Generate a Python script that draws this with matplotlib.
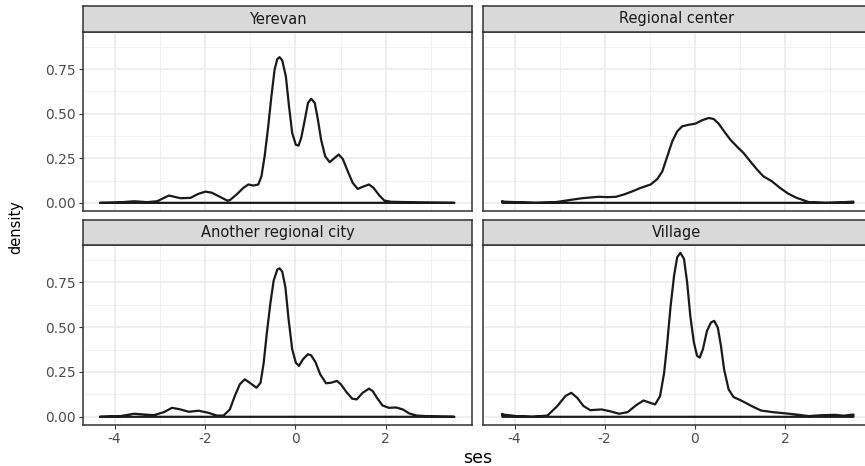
import numpy as np
import matplotlib
matplotlib.use("Agg")
import matplotlib.pyplot as plt

plt.rcParams['font.family'] = ['DejaVu Sans']

# ---- data ----
panels = ["Yerevan", "Regional center", "Another regional city", "Village"]

yerevan_x = [-4.31, -3.94, -3.57, -3.28, -3.06, -2.80, -2.54, -2.32, -2.15, -1.99, -1.85, -1.74, -1.51,
             -1.45, -1.30, -1.15, -1.04, -0.93, -0.82, -0.75, -0.68, -0.60, -0.53, -0.46, -0.40, -0.35,
             -0.29, -0.21, -0.14, -0.07, 0.01, 0.07, 0.13, 0.21, 0.28, 0.35, 0.43, 0.50, 0.57, 0.66,
             0.76, 0.87, 0.96, 1.05, 1.16, 1.27, 1.38, 1.49, 1.63, 1.73, 1.86, 1.97, 2.12, 2.52, 2.68, 3.52]
yerevan_y = [0.000, 0.002, 0.009, 0.004, 0.009, 0.041, 0.026, 0.028, 0.050, 0.063, 0.057, 0.043, 0.013,
             0.015, 0.047, 0.084, 0.103, 0.097, 0.103, 0.149, 0.261, 0.429, 0.597, 0.746, 0.806, 0.817,
             0.799, 0.709, 0.541, 0.392, 0.326, 0.321, 0.364, 0.466, 0.560, 0.584, 0.560, 0.466, 0.354, 0.261,
             0.228, 0.252, 0.271, 0.246, 0.177, 0.112, 0.078, 0.090, 0.103, 0.084, 0.041, 0.013, 0.006, 0.004, 0.002, 0.000]

regional_x = [-4.27, -3.96, -3.53, -3.09, -2.80, -2.50, -2.14, -1.93, -1.75, -1.57, -1.38, -1.20,
              -0.98, -0.83, -0.72, -0.61, -0.50, -0.39, -0.28, -0.13, 0.01, 0.16, 0.31, 0.42, 0.53,
              0.65, 0.79, 0.93, 1.08, 1.23, 1.38, 1.52, 1.71, 1.89, 2.07, 2.26, 2.33, 2.53, 2.90, 3.19, 3.52]
regional_y = [0.007, 0.004, 0.000, 0.004, 0.015, 0.026, 0.034, 0.032, 0.034, 0.047, 0.065, 0.084,
              0.103, 0.134, 0.177, 0.261, 0.345, 0.401, 0.429, 0.438, 0.444, 0.463, 0.476, 0.470, 0.444,
              0.401, 0.354, 0.317, 0.280, 0.233, 0.187, 0.149, 0.121, 0.084, 0.052, 0.028, 0.022, 0.004, 0.000, 0.002, 0.007]

another_x = [-4.31, -3.87, -3.57, -3.35, -3.13, -2.91, -2.73, -2.54, -2.36, -2.14, -1.92, -1.74,
             -1.59, -1.45, -1.34, -1.23, -1.12, -1.01, -0.86, -0.77, -0.70, -0.63, -0.55, -0.48, -0.40,
             -0.35, -0.29, -0.22, -0.15, -0.07, 0.01, 0.08, 0.17, 0.28, 0.35, 0.45, 0.55, 0.68, 0.79,
             0.92, 1.01, 1.13, 1.26, 1.36, 1.49, 1.63, 1.71, 1.82, 1.93, 2.07, 2.23, 2.38, 2.52, 2.68, 3.04, 3.52]
another_y = [0.000, 0.004, 0.017, 0.013, 0.009, 0.026, 0.050, 0.041, 0.028, 0.034, 0.022, 0.007,
             0.007, 0.041, 0.116, 0.181, 0.209, 0.190, 0.162, 0.190, 0.302, 0.470, 0.638, 0.759, 0.821,
             0.828, 0.810, 0.722, 0.545, 0.377, 0.302, 0.284, 0.321, 0.349, 0.343, 0.302, 0.237, 0.187, 0.190,
             0.200, 0.181, 0.138, 0.101, 0.097, 0.134, 0.157, 0.144, 0.101, 0.063, 0.050, 0.052, 0.041, 0.019, 0.007, 0.002, 0.000]

village_x = [-4.27, -3.96, -3.60, -3.27, -3.05, -2.87, -2.74, -2.61, -2.47, -2.32, -2.07, -1.90,
             -1.68, -1.49, -1.31, -1.14, -0.99, -0.88, -0.77, -0.68, -0.61, -0.54, -0.46, -0.39, -0.32,
             -0.24, -0.17, -0.10, -0.02, 0.05, 0.11, 0.18, 0.27, 0.36, 0.43, 0.51, 0.58, 0.65, 0.75,
             0.86, 1.01, 1.15, 1.26, 1.47, 1.73, 2.02, 2.31, 2.53, 2.82, 3.12, 3.30, 3.52]
village_y = [0.013, 0.004, 0.000, 0.007, 0.060, 0.116, 0.134, 0.106, 0.060, 0.037, 0.041, 0.032,
             0.017, 0.026, 0.063, 0.091, 0.078, 0.069, 0.116, 0.246, 0.414, 0.610, 0.787, 0.890, 0.914,
             0.881, 0.750, 0.563, 0.414, 0.340, 0.330, 0.377, 0.479, 0.526, 0.535, 0.498, 0.396, 0.265, 0.153,
             0.110, 0.093, 0.075, 0.060, 0.035, 0.026, 0.019, 0.011, 0.004, 0.009, 0.011, 0.006, 0.013]

series = [(yerevan_x, yerevan_y), (regional_x, regional_y), (another_x, another_y), (village_x, village_y)]

x_major = [-4, -2, 0, 2]
x_minor = [-3, -1, 1, 3]
y_major = [0.0, 0.25, 0.5, 0.75]
y_minor = [0.125, 0.375, 0.625, 0.875]
y_labels = ["0.00", "0.25", "0.50", "0.75"]

xlim = (-4.70, 3.91)
ylim = (-0.0457, 0.958)

# ---- layout (pixels) ----
W, H = 865, 466
fig = plt.figure(figsize=(W / 100, H / 100), dpi=100)

cols = [(83, 472), (483, 871)]
rows = [(32, 211), (245, 425)]
strips = [(6, 32), (220, 245)]

def rect(x0, x1, y0, y1):
    return [x0 / W, 1 - y1 / H, (x1 - x0) / W, (y1 - y0) / H]

border = '#333333'
for i, name in enumerate(panels):
    r, c = divmod(i, 2)
    x0, x1 = cols[c]
    y0, y1 = rows[r]
    ax = fig.add_axes(rect(x0, x1, y0, y1))
    ax.set_xlim(*xlim)
    ax.set_ylim(*ylim)
    for v in x_minor:
        ax.axvline(v, color='#F2F2F2', lw=0.7, zorder=0)
    for v in y_minor:
        ax.axhline(v, color='#F2F2F2', lw=0.7, zorder=0)
    for v in x_major:
        ax.axvline(v, color='#EBEBEB', lw=1.2, zorder=0)
    for v in y_major:
        ax.axhline(v, color='#EBEBEB', lw=1.2, zorder=0)
    xs, ys = series[i]
    px = np.r_[xs, xs[-1], xs[0], xs[0]]
    py = np.r_[ys, 0.0, 0.0, ys[0]]
    ax.plot(px, py, color='#1A1A1A', lw=1.6, solid_joinstyle='round', zorder=3)
    for s in ax.spines.values():
        s.set_color(border)
        s.set_linewidth(1.1)
    ax.set_xticks(x_major)
    ax.set_yticks(y_major)
    ax.tick_params(colors=border, length=3, width=0.8, labelcolor='#4D4D4D', labelsize=10, pad=2)
    if r == 1:
        ax.set_xticklabels([str(v) for v in x_major])
    else:
        ax.tick_params(axis='x', length=0, labelbottom=False)
    if c == 0:
        ax.set_yticklabels(y_labels)
    else:
        ax.tick_params(axis='y', length=0, labelleft=False)

    s0, s1 = strips[r]
    sax = fig.add_axes(rect(x0, x1, s0, s1))
    sax.set_facecolor('#D9D9D9')
    sax.set_xticks([])
    sax.set_yticks([])
    for s in sax.spines.values():
        s.set_color(border)
        s.set_linewidth(1.1)
    sax.text(0.5, 0.5, name, ha='center', va='center', fontsize=10.5, color='#1A1A1A',
             transform=sax.transAxes)

fig.text(16 / W, 1 - 227 / H, 'density', rotation=90, ha='center', va='center', fontsize=10.5, color='black')
fig.text(478 / W, 1 - 458 / H, 'ses', ha='center', va='center', fontsize=12.5, color='black')

fig.savefig('out.png', dpi=100)
